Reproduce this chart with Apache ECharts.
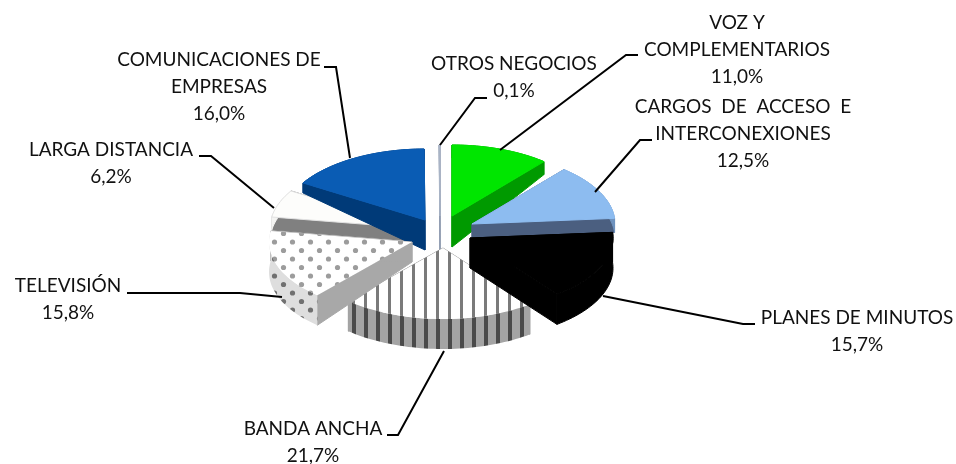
<!DOCTYPE html>
<html>
<head>
<meta charset="utf-8">
<style>
  html, body { margin: 0; padding: 0; background: #fff; }
  #pieChart { width: 956px; height: 464px; }
</style>
<script src="https://cdn.jsdelivr.net/npm/echarts@6/dist/echarts.min.js"></script>
</head>
<body>
<div id="pieChart"></div>
<script>
// data, clockwise from 12 o'clock
const categories = [
  "VOZ Y\nCOMPLEMENTARIOS",
  "CARGOS  DE  ACCESO  E\nINTERCONEXIONES",
  "PLANES DE MINUTOS",
  "BANDA ANCHA",
  "TELEVISIÓN",
  "LARGA DISTANCIA",
  "COMUNICACIONES DE\nEMPRESAS",
  "OTROS NEGOCIOS",
];
const shares = [11.0, 12.5, 15.7, 21.7, 15.8, 6.2, 16.0, 0.1];

// pie geometry
const centerX = 440;
const centerY = 230;
const radiusX = 143;
const radiusY = 71;

// pull-out of each slice and its thickness at the apex and at the rim
const explodeX = [12, 32, 30, 3, -28, -27, -15, 0];
const explodeY = [-14, -6, 8, 18, 12, -2, -10, -14];
const depthApex = [31, 14, 30, 30, 20, 13, 30, 34];
const depthRim = [13, 14, 30, 30, 30, 13, 10, 0];
const drawOrder = [1, 3, 6, 5, 7, 2, 4, 0];

// label placement: [text centre x, first line centre y], then the leader line
const labelPos = [
  [737, 23], [743, 107], [857, 318], [313, 429],
  [68, 286], [111, 150], [219, 60], [514, 64],
];
const leaderLines = [
  [[638, 55], [626, 55], [500, 150]],
  [[652, 140], [640, 140], [595, 192]],
  [[755, 324], [743, 324], [603, 296]],
  [[387, 435], [398, 435], [444, 351]],
  [[127, 293], [240, 293], [282, 297]],
  [[199, 156], [211, 156], [274, 208]],
  [[324, 67], [336, 67], [350, 158]],
  [[487, 98], [475, 98], [440, 145]],
];

const makePattern = (w, h, draw) => {
  const c = document.createElement("canvas");
  c.width = w;
  c.height = h;
  draw(c.getContext("2d"));
  return { image: c, repeat: "repeat" };
};
const stripes = (bg, fg, barWidth) =>
  makePattern(12, 12, (g) => {
    g.fillStyle = bg;
    g.fillRect(0, 0, 12, 12);
    g.fillStyle = fg;
    g.fillRect(4, 0, barWidth, 12);
  });
const dots = (bg, fg) =>
  makePattern(18, 17, (g) => {
    g.fillStyle = bg;
    g.fillRect(0, 0, 18, 17);
    g.fillStyle = fg;
    [[4.5, 4], [13.5, 12.5]].forEach(([x, y]) => {
      g.beginPath();
      g.arc(x, y, 2.6, 0, Math.PI * 2);
      g.fill();
    });
  });

const topColors = ["#00e600", "#8dbcf0", "#000000", stripes("#ffffff", "#7a7a7a", 3), dots("#ffffff", "#9c9c9c"), "#fdfdfb", "#0a5cb4", "#a9b4c6"];
const sideColors = ["#009a00", "#4b5f80", "#000000", "#9a9a9a", "#a8a8a8", "#808080", "#003a78", "#8f9bb0"];
const rimColors = ["#009a00", "#6f93bf", "#000000", stripes("#a4a4a4", "#4a4a4a", 4), dots("#dedede", "#707070"), "#f4f4f2", "#003a78", "#8f9bb0"];

const total = shares.reduce((a, b) => a + b, 0);
const startAngles = shares.map((_, i) =>
  (shares.slice(0, i).reduce((a, b) => a + b, 0) / total) * Math.PI * 2
);

const renderSlice = (params, api) => {
  const i = params.dataIndex;
  const a0 = startAngles[i];
  const a1 = a0 + (api.value(0) / total) * Math.PI * 2;
  const ax = centerX + explodeX[i];
  const ay = centerY + explodeY[i];
  const z = drawOrder[i] * 10;

  const arc = [];
  const steps = Math.max(2, Math.ceil((a1 - a0) / 0.03));
  for (let s = 0; s <= steps; s++) {
    const a = a0 + ((a1 - a0) * s) / steps;
    arc.push([ax + radiusX * Math.sin(a), ay - radiusY * Math.cos(a)]);
  }
  const first = arc[0];
  const last = arc[arc.length - 1];
  const dA = depthApex[i];
  const dR = depthRim[i];

  const poly = (points, fill, z2, stroke) => ({
    type: "polygon",
    z2,
    shape: { points },
    style: { fill, stroke: stroke || (typeof fill === "string" ? fill : "none"), lineWidth: 1 },
  });

  return {
    type: "group",
    children: [
      poly([[ax, ay], [ax, ay + dA], [first[0], first[1] + dR], first], sideColors[i], z),
      poly([[ax, ay], [ax, ay + dA], [last[0], last[1] + dR], last], sideColors[i], z),
      poly(arc.concat(arc.map((p) => [p[0], p[1] + dR]).reverse()), rimColors[i], z + 1),
      poly([[ax, ay]].concat(arc), topColors[i], z + 2, i === 5 ? "#e2e2e2" : null),
    ],
  };
};

const renderLabel = (params, api) => {
  const i = params.dataIndex;
  const pct = api.value(0).toFixed(1).replace(".", ",") + "%";
  return {
    type: "group",
    children: [
      {
        type: "polyline",
        z2: 200,
        shape: { points: leaderLines[i] },
        style: { fill: "none", stroke: "#000", lineWidth: 2 },
      },
      {
        type: "text",
        z2: 201,
        x: labelPos[i][0],
        y: labelPos[i][1] - 13,
        style: {
          text: categories[i] + "\n" + pct,
          align: "center",
          verticalAlign: "top",
          font: '19px Lato, "Noto Sans", sans-serif',
          lineHeight: 26.6,
          fill: "#111",
        },
      },
    ],
  };
};

const option = {
  animation: false,
  series: [
    { type: "custom", coordinateSystem: "none", renderItem: renderSlice, data: shares, silent: true },
    { type: "custom", coordinateSystem: "none", renderItem: renderLabel, data: shares, silent: true },
  ],
};
var chartDom = document.getElementById("pieChart");
var myChart = echarts.init(chartDom, null, { renderer: "canvas" });
option && myChart.setOption(option);
</script>
</body>
</html>
